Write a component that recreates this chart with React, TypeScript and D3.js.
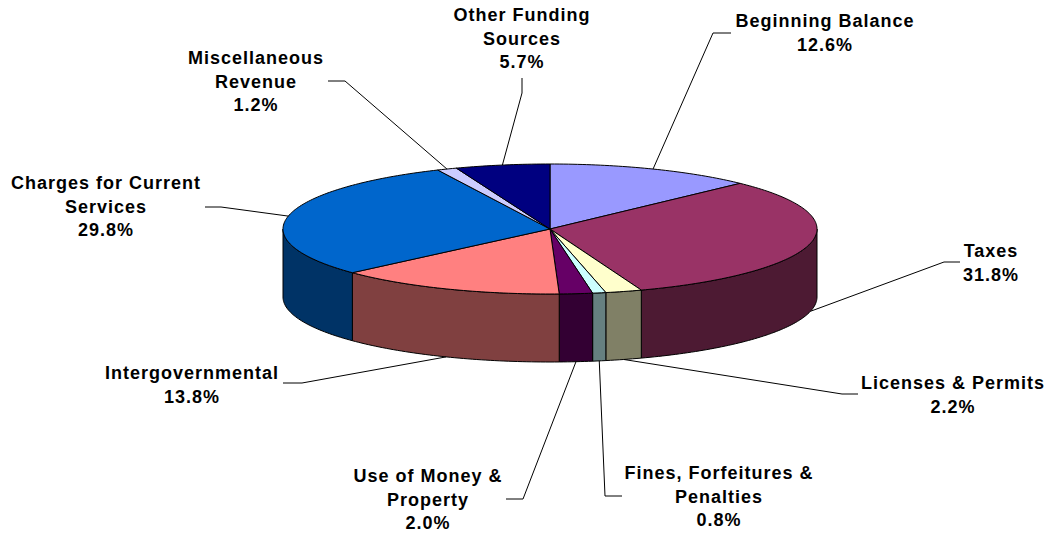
import React, { useEffect, useRef } from 'react';
import * as d3 from 'd3';

// slices, clockwise from 12 o'clock
const categories = [
  'Beginning Balance',
  'Taxes',
  'Licenses & Permits',
  'Fines, Forfeitures & Penalties',
  'Use of Money & Property',
  'Intergovernmental',
  'Charges for Current Services',
  'Miscellaneous Revenue',
  'Other Funding Sources',
];
const values = [12.6, 31.8, 2.2, 0.8, 2.0, 13.8, 29.8, 1.2, 5.7];
const labelLines = [
  ['Beginning Balance'],
  ['Taxes'],
  ['Licenses & Permits'],
  ['Fines, Forfeitures &', 'Penalties'],
  ['Use of Money &', 'Property'],
  ['Intergovernmental'],
  ['Charges for Current', 'Services'],
  ['Miscellaneous', 'Revenue'],
  ['Other Funding', 'Sources'],
];
const topColors = ['#9999FF', '#993366', '#FFFFCC', '#CCFFFF', '#660066', '#FF8080', '#0066CC', '#CCCCFF', '#000080'];
const sideColors = ['#4D4D80', '#4D1A33', '#808066', '#668080', '#330033', '#804040', '#003366', '#666680', '#000040'];

// label layout: text centre x, first baseline y, elbow of the leader line [end, bend]
const labelLayout = [
  { x: 825, y: 27, leader: [[731, 33], [713, 33]] },
  { x: 991, y: 257, leader: [[960, 262], [944, 262]] },
  { x: 953, y: 389, leader: [[858, 394], [842, 394]] },
  { x: 719, y: 479, leader: [[622, 496], [605, 496]] },
  { x: 428, y: 482, leader: [[506, 499], [523, 499]] },
  { x: 192, y: 379, leader: [[283, 383], [302, 383]] },
  { x: 106, y: 189, leader: [[205, 207], [221, 207]] },
  { x: 256, y: 64, leader: [[328, 81], [345, 81]] },
  { x: 522, y: 21, leader: [[522, 78], [522, 93]] },
];

export default function App() {
  const ref = useRef<SVGSVGElement>(null);

  useEffect(() => {
    const w = 1052;
    const h = 535;
    const cx = 550;
    const cy = 229;
    const rx = 267;
    const ry = 65;
    const depth = 68;

    const svg = d3.select(ref.current);
    svg.selectAll('*').remove();
    svg.attr('width', w).attr('height', h);
    svg.append('rect').attr('width', w).attr('height', h).attr('fill', '#fff');

    const pie = d3.pie<number>().sort(null).value(d => d)
      .startAngle(0).endAngle(2 * Math.PI);
    const arcs = pie(values);

    const px = (a: number) => cx + rx * Math.sin(a);
    const py = (a: number) => cy - ry * Math.cos(a);
    const line = d3.line<[number, number]>();

    const arcPts = (a0: number, a1: number, dy: number): [number, number][] => {
      const n = Math.max(2, Math.ceil((a1 - a0) / (Math.PI / 180)));
      return d3.range(n + 1).map(i => {
        const a = a0 + (a1 - a0) * i / n;
        return [px(a), py(a) + dy] as [number, number];
      });
    };

    // side walls, only the front half shows
    const sides = svg.append('g');
    arcs.forEach((d, i) => {
      const f0 = Math.max(d.startAngle, Math.PI / 2);
      const f1 = Math.min(d.endAngle, 3 * Math.PI / 2);
      if (f1 <= f0) return;
      const pts = [...arcPts(f0, f1, 0), ...arcPts(f0, f1, depth).reverse()];
      sides.append('path')
        .attr('d', line(pts) + 'Z')
        .attr('fill', sideColors[i])
        .attr('stroke', '#000')
        .attr('stroke-width', 1)
        .attr('stroke-linejoin', 'round');
    });

    // top faces
    const tops = svg.append('g');
    arcs.forEach((d, i) => {
      const pts: [number, number][] = [[cx, cy], ...arcPts(d.startAngle, d.endAngle, 0)];
      tops.append('path')
        .attr('d', line(pts) + 'Z')
        .attr('fill', topColors[i])
        .attr('stroke', '#000')
        .attr('stroke-width', 1)
        .attr('stroke-linejoin', 'round');
    });

    // leader lines + labels
    const labels = svg.append('g')
      .attr('font-family', '"Liberation Sans", Arial, sans-serif')
      .attr('font-weight', 'bold')
      .attr('font-size', 18)
      .attr('letter-spacing', 1)
      .attr('text-anchor', 'middle')
      .attr('fill', '#000');

    arcs.forEach((d, i) => {
      const mid = (d.startAngle + d.endAngle) / 2;
      const front = Math.cos(mid) < 0;
      const anchor: [number, number] = [px(mid), py(mid) + (front ? depth : 0)];
      const lay = labelLayout[i];
      const pts = [...(lay.leader as [number, number][]), anchor];
      labels.append('path')
        .attr('d', line(pts))
        .attr('fill', 'none')
        .attr('stroke', '#000')
        .attr('stroke-width', 1);

      const lines = [...labelLines[i], d3.format('.1f')(values[i]) + '%'];
      lines.forEach((t, k) => {
        labels.append('text')
          .attr('x', lay.x)
          .attr('y', lay.y + k * 23.5)
          .text(t);
      });
    });
  }, []);

  return (
    <svg ref={ref} style={{ position: 'absolute', left: 0, top: 0 }} aria-label={categories.join(', ')} />
  );
}
